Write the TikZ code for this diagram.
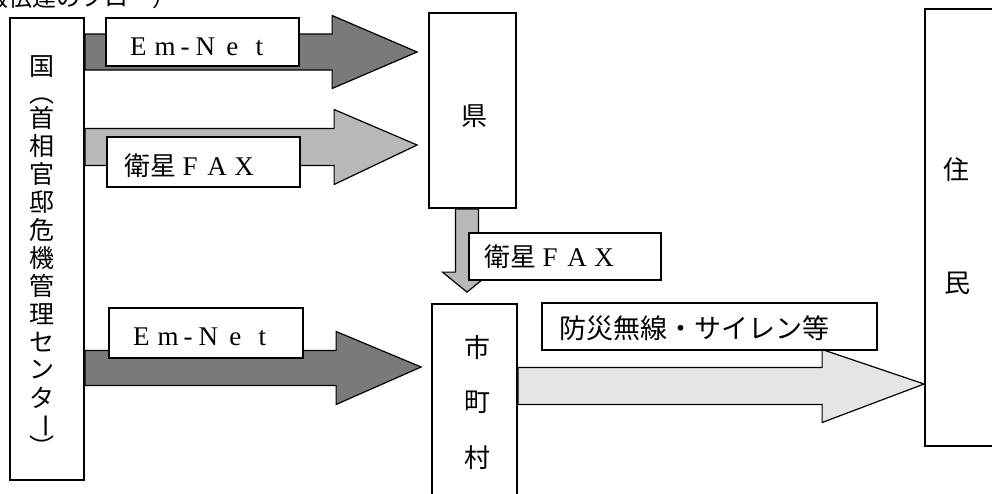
\documentclass[tikz,border=0pt]{standalone}
\usepackage{fontspec}
\usepackage{graphicx}
\setmainfont{Liberation Serif}
\newfontfamily\cjk{Noto Sans CJK JP}
\usetikzlibrary{calc}

\newcommand{\fw}[1]{\makebox[27pt]{#1}}
\newcommand{\hw}[1]{\makebox[13pt]{#1}}
\newcommand{\lbltext}[3]{\makebox[#1pt][l]{\hspace*{#2pt}#3}}
% horizontal fat arrow: style, start, tip, shaft half width, head half width, head length
\newcommand{\harrow}[6]{%
  \draw[#1] let \p1=(#2), \p2=(#3) in
    (\x1,\y1+#4pt) -- (\x2-#6pt,\y1+#4pt) -- (\x2-#6pt,\y1+#5pt) -- (\x2,\y2)
    -- (\x2-#6pt,\y1-#5pt) -- (\x2-#6pt,\y1-#4pt) -- (\x1,\y1-#4pt) -- cycle;}
% downward fat arrow
\newcommand{\varrow}[6]{%
  \draw[#1] let \p1=(#2), \p2=(#3) in
    (\x1-#4pt,\y1) -- (\x1-#4pt,\y2+#6pt) -- (\x1-#5pt,\y2+#6pt) -- (\x2,\y2)
    -- (\x1+#5pt,\y2+#6pt) -- (\x1+#4pt,\y2+#6pt) -- (\x1+#4pt,\y1) -- cycle;}

\tikzset{
  box/.style={draw, line width=1.8pt, inner sep=0pt, fill=white},
  lbl/.style={draw, line width=1.5pt, fill=white, inner sep=0pt, anchor=north west,
              font=\fontsize{27}{30}\selectfont},
  fat/.style={draw, line width=1.2pt, line join=miter},
  emnet/.style={fat, fill=black!52},
  fax/.style={fat, fill=black!28},
  bosai/.style={fat, fill=black!10},
  colchar/.style={inner sep=0pt, font=\cjk\fontsize{25}{28}\selectfont},
  boxchar/.style={inner sep=0pt, font=\cjk\fontsize{26}{28}\selectfont},
}

\begin{document}
\begin{tikzpicture}[x=1pt,y=-1pt]
\useasboundingbox (0,0) rectangle (992,493);
\clip (0,0) rectangle (992,493);

% heading, cut off by the top edge as in the scan
\node[anchor=base west, inner sep=0pt, font=\cjk\fontsize{24}{24}\selectfont] (title) at (-64,6) {（情報伝達のフロー）};

% main boxes
\node[box, minimum width=74pt, minimum height=462pt] (kuni) at (47,249) {};
\node[box, minimum width=87pt, minimum height=195pt] (ken) at (472.5,110.5) {};
\node[box, minimum width=85pt, minimum height=206pt] (shi) at (474.5,407) {};
\node[box, minimum width=72pt, minimum height=437pt] (jumin) at (961,227.5) {};

% box texts
\foreach \c/\y [count=\i] in {国/67, ︵/101, 首/118, 相/146, 官/174, 邸/202, 危/230, 機/258, 管/286, 理/314, セ/342, ン/370, タ/398, ︶/446}
  \node[colchar] (kc\i) at (42,\y) {\c};
\node[colchar] (kcbar) at (42,426) {\rotatebox{-90}{ー}};
\node[boxchar] (kent) at (474,116) {県};
\node[boxchar] (shi1) at (477,348) {市};
\node[boxchar] (shi2) at (477,402) {町};
\node[boxchar] (shi3) at (477,458) {村};
\node[boxchar] (ju1) at (956,170) {住};
\node[boxchar] (ju2) at (957,283) {民};

% connector end points
\coordinate (a1s) at (kuni.east |- 0,52);
\coordinate (a1t) at ($(ken.west |- 0,52)+(-11,0)$);
\coordinate (a2s) at (kuni.east |- 0,147);
\coordinate (a2t) at ($(ken.west |- 0,145)+(-11,0)$);
\coordinate (a3s) at (kuni.east |- 0,368);
\coordinate (a3t) at ($(shi.west |- 0,367)+(-10,0)$);
\coordinate (a4s) at (shi.east |- 0,386);
\coordinate (a4t) at (jumin.west |- 0,384);
\coordinate (a5s) at (ken.south -| 467,0);
\coordinate (a5t) at ($(shi.north -| 467,0)+(0,-11)$);

% fat arrows
\harrow{emnet}{a1s}{a1t}{18}{36.5}{85}
\harrow{fax}{a2s}{a2t}{18.5}{37.5}{83}
\harrow{emnet}{a3s}{a3t}{17.5}{36.5}{85}
\harrow{bosai}{a4s}{a4t}{18.5}{36.5}{102}
\varrow{fax}{a5s}{a5t}{11.5}{24.5}{20}

% labels
\node[lbl, minimum height=48pt, text height=38pt, text depth=10pt] (l1) at (105,17)
  {\lbltext{193}{19}{\fw{E}\fw{m}\hw{-}\fw{N}\fw{e}\fw{t}}};
\node[lbl, minimum height=50pt, text height=39pt, text depth=11pt] (l2) at (106,136)
  {\lbltext{193}{18}{{\cjk\fontsize{26}{30}\selectfont 衛星}\fw{F}\fw{A}\fw{X}}};
\node[lbl, minimum height=50pt, text height=38pt, text depth=12pt] (l3) at (108,307)
  {\lbltext{194}{19}{\fw{E}\fw{m}\hw{-}\fw{N}\fw{e}\fw{t}}};
\node[lbl, minimum height=47pt, text height=34pt, text depth=13pt] (l4) at (468,232)
  {\lbltext{192}{16}{{\cjk\fontsize{26}{30}\selectfont 衛星}\fw{F}\fw{A}\fw{X}}};
\node[lbl, minimum height=47pt, text height=36pt, text depth=11pt] (l5) at (541,302)
  {\lbltext{335}{18}{{\cjk\fontsize{27}{30}\selectfont 防災無線・サイレン等}}};
\end{tikzpicture}
\end{document}
